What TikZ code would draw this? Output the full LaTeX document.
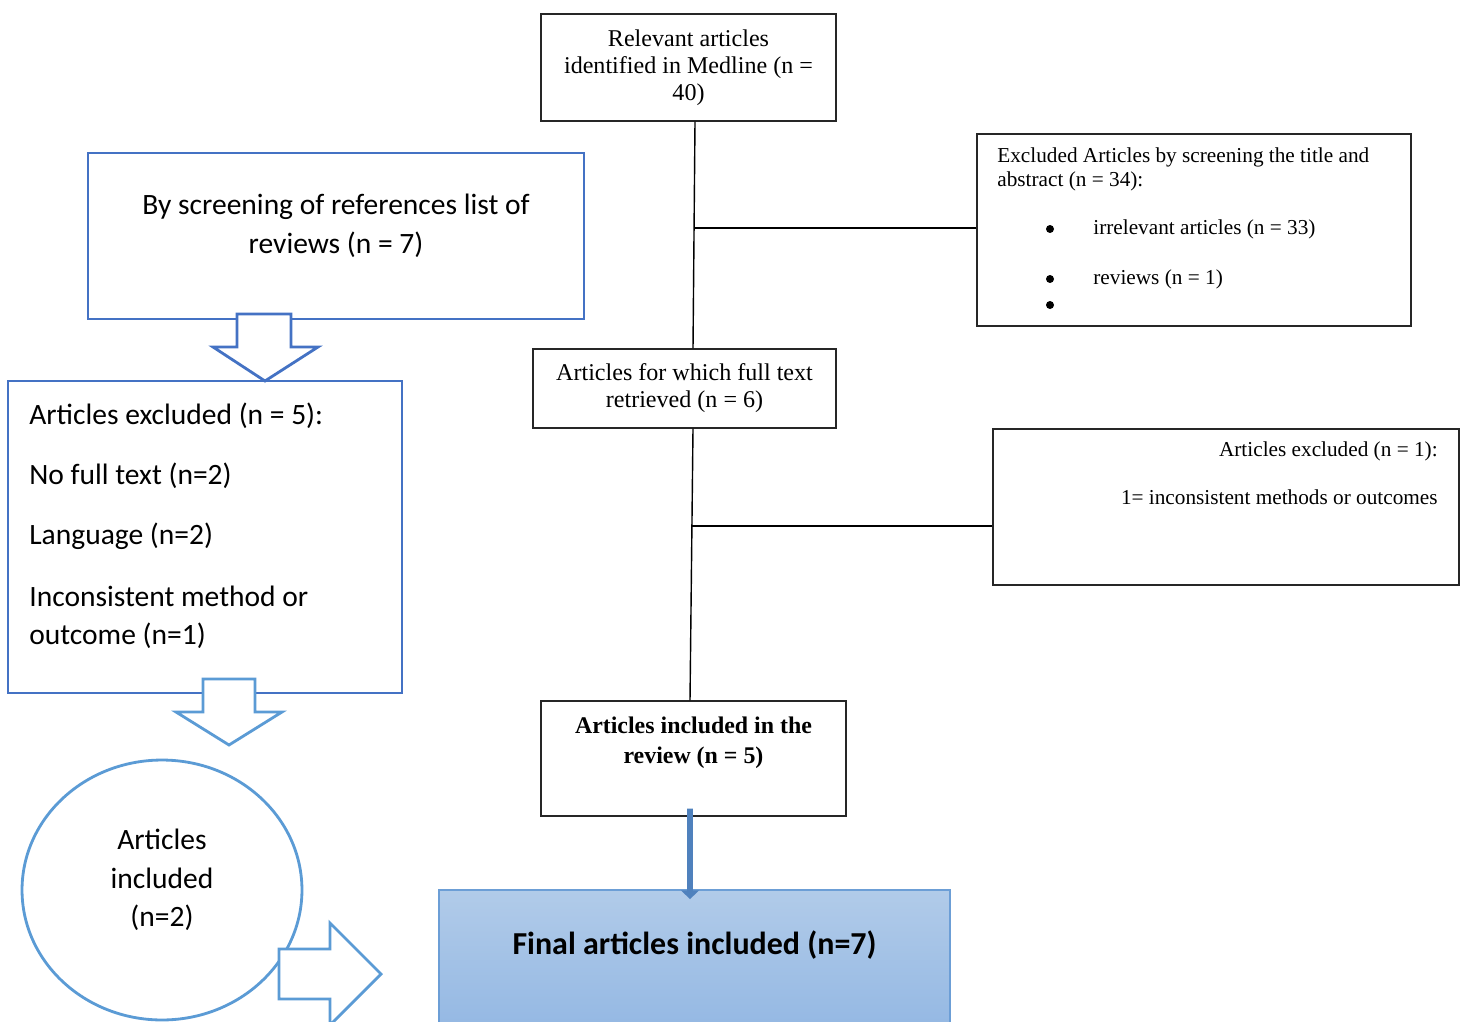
\documentclass[tikz,border=0pt]{standalone}
\usepackage{fontspec}
\setmainfont{Liberation Serif}
\newfontfamily\calibri{Carlito}
\usetikzlibrary{positioning,shapes.geometric,arrows.meta}

\definecolor{darkblue}{HTML}{4472C4}
\definecolor{lightblue}{HTML}{5B9BD5}
\definecolor{finaltop}{HTML}{B1CBE9}
\definecolor{finalbot}{HTML}{94B8E3}
\definecolor{finaledge}{HTML}{6C9ED6}
\definecolor{pipeblue}{HTML}{4F81BD}

\tikzset{
	flowbox/.style={draw=black!85, line width=0.8pt, inner sep=0pt},
	bluebox/.style={draw=darkblue, line width=1.6pt, inner sep=0pt},
	serif/.style={font=\fontsize{13.7}{15.3}\selectfont, align=center},
	smallserif/.style={font=\fontsize{12.1}{13.8}\selectfont, inner xsep=0pt},
	sans/.style={font=\calibri\fontsize{16.8}{22.3}\selectfont},
	link/.style={draw=black, line width=0.8pt},
	blockarrow/.style={fill=white, line width=1.6pt, line join=miter},
	pipeline/.style={draw=pipeblue, line width=3.4pt, -{Triangle[length=5pt,width=10pt]}}
}

\begin{document}
\begin{tikzpicture}[x=0.02cm, y=-0.02cm]
	\clip (0,0) rectangle (1463,1021);
	\fill[white] (0,0) rectangle (1463,1021);

	% main column
	\node[flowbox, minimum width=5.9cm, minimum height=2.14cm, serif] (medline) at (688.5,67.5)
		{Relevant articles\\ identified in Medline (n =\\ 40)};
	\node[flowbox, minimum width=6.06cm, minimum height=1.58cm, serif] (fulltext) at (684.5,388.5)
		{Articles for which full text\\ retrieved (n = 6)};
	\node[flowbox, minimum width=6.1cm, minimum height=2.3cm] (included) at (693.5,758.5) {};
	\node[font=\bfseries\fontsize{13.6}{17}\selectfont, align=center] at (693.5,742.5)
		{Articles included in the\\ review (n = 5)};
	\node[draw=finaledge, line width=1pt, top color=finaltop, bottom color=finalbot,
		minimum width=10.22cm, minimum height=2.8cm] (final) at (694.5,960) {};
	\node[font=\calibri\bfseries\fontsize{18.2}{22}\selectfont] at (694.5,945)
		{Final articles included (n=7)};

	% exclusion boxes
	\node[flowbox, minimum width=8.68cm, minimum height=3.84cm] (extitle) at (1194,230) {};
	\node[smallserif, align=left, anchor=west] at (997,169.5)
		{Excluded Articles by screening the title and\\ abstract (n = 34):};
	\foreach \y in {229,279,305}
		\fill (1050,\y) circle (4);
	\node[smallserif, anchor=west] at (1093,229) {irrelevant articles (n = 33)};
	\node[smallserif, anchor=west] at (1093,279) {reviews (n = 1)};

	\node[flowbox, minimum width=9.32cm, minimum height=3.12cm] (exfull) at (1226,507) {};
	\node[smallserif, anchor=east] at (1438,451) {Articles excluded (n = 1):};
	\node[smallserif, anchor=east] at (1438,497) {1= inconsistent methods or outcomes};

	% connectors
	\draw[link] ([xshift=0.13cm]medline.south) -- ([xshift=0.17cm]fulltext.north);
	\coordinate (tee1) at (694,228);
	\draw[link] (tee1) -- (tee1 -| extitle.west);
	\draw[link] ([xshift=0.17cm]fulltext.south) -- ([xshift=-0.07cm]included.north);
	\coordinate (tee2) at (692,526);
	\draw[link] (tee2) -- (tee2 -| exfull.west);
	\draw[pipeline] ([xshift=-0.07cm,yshift=0.16cm]included.south) -- ([xshift=-0.09cm,yshift=-0.2cm]final.north);

	% reference list branch
	\node[bluebox, minimum width=9.92cm, minimum height=3.32cm] (reflist) at (336,236) {};
	\node[sans, align=center] at (336,226)
		{By screening of references list of\\ reviews (n = 7)};
	\node[bluebox, minimum width=7.88cm, minimum height=6.24cm] (refexcl) at (205,537) {};
	\foreach \y/\t in {416/{Articles excluded (n = 5):}, 476/{No full text (n=2)},
		536/{Language (n=2)}, 596/{Inconsistent method or}, 636/{outcome (n=1)}}
		\node[sans, anchor=west, inner xsep=0pt] at (29,\y) {\t};
	\node[ellipse, draw=lightblue, line width=1.6pt, minimum width=5.6cm, minimum height=5.2cm] (refincl) at (162,890) {};
	\node[align=center, font=\calibri\fontsize{16.8}{22}\selectfont] at (162,880)
		{Articles\\ included\\ (n=2)};

	% block arrows
	\draw[blockarrow, draw=darkblue] (237,314) -- (291,314) -- (291,347) -- (318,347)
		-- (265,381) -- (213,347) -- (237,347) -- cycle;
	\draw[blockarrow, draw=lightblue] (203,679) -- (255,679) -- (255,712) -- (282,712)
		-- (229,745) -- (176,712) -- (203,712) -- cycle;
	\draw[blockarrow, draw=lightblue] (279,949) -- (330,949) -- (330,923) -- (381,974)
		-- (330,1025) -- (330,999) -- (279,999) -- cycle;
\end{tikzpicture}
\end{document}
